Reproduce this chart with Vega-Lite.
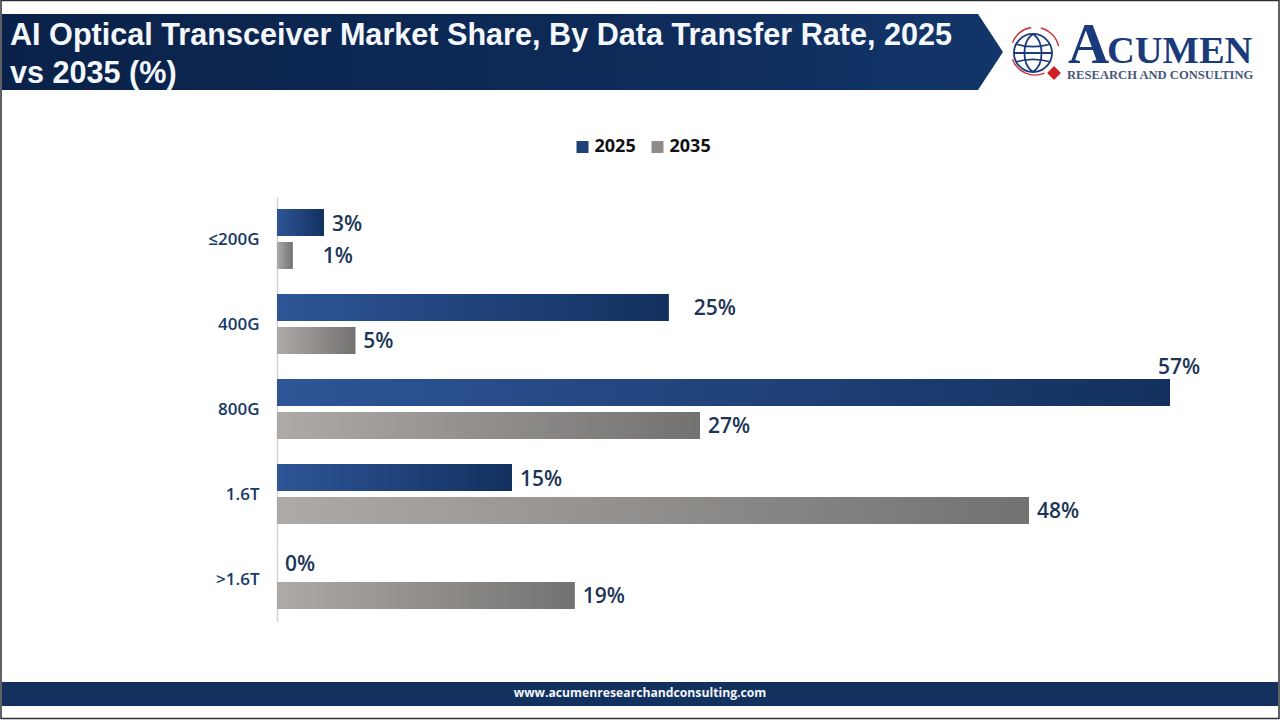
{
  "$schema": "https://vega.github.io/schema/vega-lite/v6.json",
  "width": 1280,
  "height": 720,
  "autosize": "none",
  "padding": 0,
  "background": "#ffffff",
  "config": {"view": {"stroke": null}},
  "layer": [
    {
      "encoding": {
        "x": {"field": "px", "type": "quantitative", "axis": null, "scale": {"domain": [0, 1280], "range": [0, 1280], "nice": false, "zero": false}},
        "y": {"field": "py", "type": "quantitative", "axis": null, "scale": {"domain": [0, 720], "range": [0, 720], "nice": false, "zero": false}}
      },
      "layer": [
        {
          "data": {"values": [{"px": 434}, {"px": 590}, {"px": 746}, {"px": 902}, {"px": 1062}]},
          "mark": {"type": "rule", "color": "#f6f6f6", "strokeWidth": 2},
          "encoding": {"y": {"datum": 208}, "y2": {"datum": 622}}
        },
        {
          "data": {"values": [
            {"px": 2, "py": 14, "py2": 90},
            {"px": 978, "py": 14, "py2": 90},
            {"px": 1003, "py": 52, "py2": 52}
          ]},
          "mark": {"type": "area", "color": {"gradient": "linear", "x1": 0, "x2": 1, "y1": 0, "y2": 0, "stops": [{"offset": 0, "color": "#0a2249"}, {"offset": 0.6, "color": "#0d2a58"}, {"offset": 1, "color": "#13366a"}]}},
          "encoding": {"y2": {"field": "py2"}}
        },
        {
          "data": {"values": [{"px": 2, "px2": 1278, "py": 682, "py2": 706}]},
          "mark": {"type": "rect", "color": "#12315f"},
          "encoding": {"x2": {"field": "px2"}, "y2": {"field": "py2"}}
        },
        {
          "data": {"values": [{"px": 1, "px2": 1279, "py": 0.5, "py2": 718.5}]},
          "mark": {"type": "rect", "fillOpacity": 0, "stroke": "#2b2f33", "strokeWidth": 1.5},
          "encoding": {"x2": {"field": "px2"}, "y2": {"field": "py2"}}
        },
        {
          "data": {"values": [
            {"px": 10, "py": 45, "text": "AI Optical Transceiver Market Share, By Data Transfer Rate, 2025"},
            {"px": 10, "py": 83, "text": "vs 2035 (%)"}
          ]},
          "mark": {"type": "text", "align": "left", "baseline": "alphabetic", "font": "Liberation Sans", "fontWeight": "bold", "fontSize": 30.6, "color": "#f4f8fc"},
          "encoding": {"text": {"field": "text"}}
        },
        {
          "data": {"values": [{"px": 640, "py": 693, "text": "www.acumenresearchandconsulting.com"}]},
          "mark": {"type": "text", "align": "center", "baseline": "middle", "font": "Open Sans", "fontWeight": "bold", "fontSize": 12.2, "color": "#f2f6fa"},
          "encoding": {"text": {"field": "text"}}
        },
        {
          "data": {"values": [{"px": 1033, "py": 53}]},
          "mark": {"type": "point", "filled": false, "stroke": "#1a3a7c", "strokeWidth": 1.8, "opacity": 1, "shape": "M-.5 0A.5 .5 0 1 1 .5 0A.5 .5 0 1 1 -.5 0ZM0 -.5C-.3 -.3 -.3 .3 0 .5C.3 .3 .3 -.3 0 -.5ZM-.44 -.23Q0 -.1 .44 -.23M-.44 .23Q0 .1 .44 .23M-.5 0L.5 0", "size": 5800}
        },
        {
          "data": {"values": [{"px": 1035, "py": 51}]},
          "mark": {"type": "point", "filled": false, "stroke": "#c8333c", "strokeWidth": 1.4, "opacity": 1, "shape": "M-.47 -.17A.5 .5 0 0 1 -.08 -.49M.12 -.48A.5 .5 0 0 1 .49 -.1M-.47 .17A.5 .5 0 0 0 .2 .46", "size": 9200}
        },
        {
          "data": {"values": [{"px": 1054, "py": 73}]},
          "mark": {"type": "point", "filled": true, "color": "#cf2027", "opacity": 1, "shape": "diamond", "size": 190}
        },
        {
          "data": {"values": [{"px": 1068, "py": 63, "text": "A"}]},
          "mark": {"type": "text", "align": "left", "baseline": "alphabetic", "font": "Liberation Serif", "fontWeight": "bold", "fontSize": 57, "color": "#1a3a7c"},
          "encoding": {"text": {"field": "text"}}
        },
        {
          "data": {"values": [{"px": 1107, "py": 63, "text": "CUMEN"}]},
          "mark": {"type": "text", "align": "left", "baseline": "alphabetic", "font": "Liberation Serif", "fontWeight": "bold", "fontSize": 38.5, "color": "#1a3a7c"},
          "encoding": {"text": {"field": "text"}}
        },
        {
          "data": {"values": [{"px": 1067, "py": 78.5, "text": "RESEARCH AND CONSULTING"}]},
          "mark": {"type": "text", "align": "left", "baseline": "alphabetic", "font": "Liberation Serif", "fontWeight": "bold", "fontSize": 12.6, "color": "#46587a"},
          "encoding": {"text": {"field": "text"}}
        }
      ]
    },
    {
      "data": {"values": [
        {"rate": "≤200G", "year": "2025", "share": 3, "label": "3%"},
        {"rate": "≤200G", "year": "2035", "share": 1, "label": "1%"},
        {"rate": "400G", "year": "2025", "share": 25, "label": "25%"},
        {"rate": "400G", "year": "2035", "share": 5, "label": "5%"},
        {"rate": "800G", "year": "2025", "share": 57, "label": "57%"},
        {"rate": "800G", "year": "2035", "share": 27, "label": "27%"},
        {"rate": "1.6T", "year": "2025", "share": 15, "label": "15%"},
        {"rate": "1.6T", "year": "2035", "share": 48, "label": "48%"},
        {"rate": ">1.6T", "year": "2025", "share": 0, "label": "0%"},
        {"rate": ">1.6T", "year": "2035", "share": 19, "label": "19%"}
      ]},
      "encoding": {
        "x": {"field": "share", "type": "quantitative", "axis": null, "scale": {"domain": [0, 60], "range": [277, 1217], "nice": false}},
        "y": {
          "field": "rate",
          "type": "nominal",
          "sort": null,
          "title": null,
          "scale": {"domain": ["≤200G", "400G", "800G", "1.6T", ">1.6T"], "range": [196.5, 621.5], "paddingInner": 0, "paddingOuter": 0},
          "axis": {"offset": -277, "ticks": false, "domainColor": "#d4d4d4", "domainWidth": 1.5, "labelPadding": 18, "labelOffset": 1, "labelFont": "Open Sans", "labelFontWeight": 600, "labelFontSize": 17, "labelColor": "#163a66"}
        },
        "yOffset": {"field": "year", "type": "nominal", "scale": {"domain": ["2025", "2035"], "paddingInner": 0.182, "paddingOuter": 0.379}}
      },
      "layer": [
        {
          "mark": {"type": "bar"},
          "encoding": {
            "color": {
              "field": "year",
              "type": "nominal",
              "scale": {"domain": ["2025", "2035"], "range": ["#1f3f78", "#8f8c8a"]},
              "legend": {"title": null, "orient": "none", "legendX": 573.5, "legendY": 138, "direction": "horizontal", "symbolType": "square", "symbolSize": 144, "labelFont": "Open Sans", "labelFontWeight": "bold", "labelFontSize": 18, "labelColor": "#111111", "labelOffset": 3, "columnPadding": 12}
            }
          }
        },
        {
          "transform": [{"filter": "datum.year == '2025'"}],
          "mark": {"type": "bar", "color": {"gradient": "linear", "x1": 0, "x2": 1, "y1": 0, "y2": 0, "stops": [{"offset": 0, "color": "#2f5597"}, {"offset": 1, "color": "#12315f"}]}}
        },
        {
          "transform": [{"filter": "datum.year == '2035'"}],
          "mark": {"type": "bar", "color": {"gradient": "linear", "x1": 0, "x2": 1, "y1": 0, "y2": 0, "stops": [{"offset": 0, "color": "#adaaa8"}, {"offset": 1, "color": "#747270"}]}}
        },
        {
          "transform": [{"filter": "datum.label != '1%' && datum.label != '25%' && datum.label != '57%'"}],
          "mark": {"type": "text", "align": "left", "dx": 8, "dy": 2, "font": "Open Sans", "fontWeight": 600, "fontSize": 21, "color": "#1c3557"},
          "encoding": {"text": {"field": "label"}}
        },
        {
          "transform": [{"filter": "datum.label == '1%'"}],
          "mark": {"type": "text", "align": "left", "dx": 30, "dy": 2, "font": "Open Sans", "fontWeight": 600, "fontSize": 21, "color": "#1c3557"},
          "encoding": {"text": {"field": "label"}}
        },
        {
          "transform": [{"filter": "datum.label == '25%'"}],
          "mark": {"type": "text", "align": "left", "dx": 25, "dy": 1, "font": "Open Sans", "fontWeight": 600, "fontSize": 21, "color": "#1c3557"},
          "encoding": {"text": {"field": "label"}}
        },
        {
          "transform": [{"filter": "datum.label == '57%'"}],
          "mark": {"type": "text", "align": "left", "dx": -12, "dy": -25, "font": "Open Sans", "fontWeight": 600, "fontSize": 21, "color": "#1c3557"},
          "encoding": {"text": {"field": "label"}}
        }
      ]
    }
  ],
  "resolve": {"scale": {"x": "independent", "y": "independent"}, "axis": {"x": "independent", "y": "independent"}}
}
